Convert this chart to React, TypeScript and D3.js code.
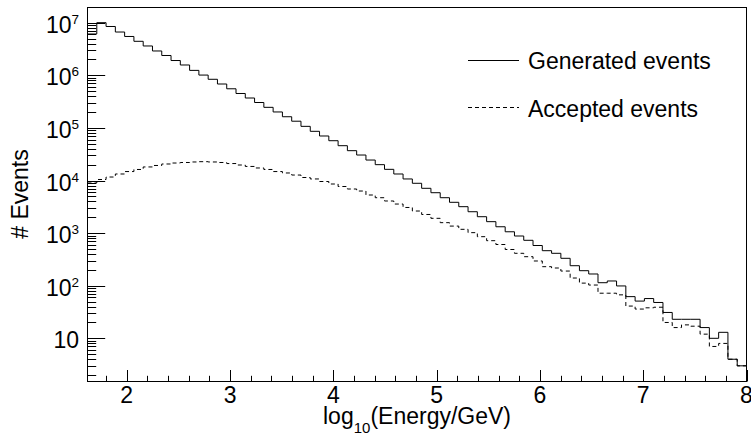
import React from "react";
import * as d3 from "d3";

// Histogram: log10(Energy/GeV), 71 equal bins
const binLow = 1.62;
const binHigh = 8;

const generated = [
  6.1e6, 1.0e7, 8.47e6, 6.65e6, 5.47e6, 4.43e6, 3.61e6, 2.9e6, 2.38e6, 1.91e6,
  1.57e6, 1.24e6, 1.01e6, 8.4e5, 6.83e5, 5.54e5, 4.51e5, 3.7e5, 3.04e5, 2.46e5,
  2.01e5, 1.63e5, 1.34e5, 1.07e5, 8.61e4, 7.02e4, 5.71e4, 4.59e4, 3.69e4, 3.05e4,
  2.45e4, 2.0e4, 1.63e4, 1.33e4, 1.07e4, 8850, 7110, 5860, 4710, 3850,
  3180, 2550, 2050, 1650, 1320, 1060, 881, 730, 581, 463,
  413, 332, 240, 193, 167, 114, 123, 99, 62, 51,
  57, 48, 31, 23, 23, 23, 16, 10, 13, 4, 3,
];

const accepted = [
  8970, 10450, 11650, 13300, 14800, 16200, 18100, 19300, 20600, 21500,
  22000, 22500, 22800, 22500, 22000, 21000, 19700, 18500, 17300, 16200,
  14800, 13900, 12700, 11400, 10700, 9570, 8580, 7690, 6890, 6310,
  5300, 4710, 4080, 3570, 3070, 2630, 2260, 1910, 1580, 1360,
  1180, 1020, 855, 718, 607, 488, 413, 356, 295, 230,
  217, 190, 140, 112, 103, 72, 72, 67, 41, 36,
  38, 39, 20, 16, 18, 17, 12, 7, 8, 4, 3,
];

const xTicks = [2, 3, 4, 5, 6, 7, 8];
const yExponents = [1, 2, 3, 4, 5, 6, 7];
const legendLabels = ["Generated events", "Accepted events"];

const W = 751;
const H = 438;
const FONT = "'Liberation Sans', Arial, Helvetica, sans-serif";

export default function App() {
  const left = 87.5;
  const right = 746.5;
  const top = 7.5;
  const bottom = 381.5;

  const x = d3.scaleLinear().domain([binLow, binHigh]).range([left, right]);
  const y = d3.scaleLog().domain([1.51, 1.945e7]).range([bottom, top]);

  const nBins = generated.length;
  const bw = (binHigh - binLow) / nBins;

  const stepPts = (vals: number[]) => {
    const pts: [number, number][] = vals.map((v, i) => [binLow + i * bw, v]);
    pts.push([binHigh, vals[vals.length - 1]]);
    return pts;
  };
  const line = d3
    .line<[number, number]>()
    .x((d) => x(d[0]))
    .y((d) => y(d[1]))
    .curve(d3.curveStepAfter);

  // minor ticks
  const xMinor: number[] = [];
  for (let v = 1.8; v < 8.001; v += 0.2) {
    const r = Math.round(v * 10) / 10;
    if (Math.abs(r - Math.round(r)) > 1e-6 && r > binLow) xMinor.push(r);
  }
  const yMinor: number[] = [];
  for (let e = 0; e <= 7; e++) {
    for (let m = 2; m <= 9; m++) {
      const v = m * Math.pow(10, e);
      if (v > 1.51 && v < 1.945e7) yMinor.push(v);
    }
  }

  return (
    <svg
      width={W}
      height={H}
      style={{ position: "absolute", left: 0, top: 0, background: "#fff" }}
      fontFamily={FONT}
    >
      <rect x={0} y={0} width={W} height={H} fill="#fff" />
      {/* histograms */}
      <path d={line(stepPts(generated)) || ""} fill="none" stroke="#000" strokeWidth={1} />
      <path
        d={line(stepPts(accepted)) || ""}
        fill="none"
        stroke="#000"
        strokeWidth={1}
        strokeDasharray="4 3"
      />
      {/* frame */}
      <rect x={left} y={top} width={right - left} height={bottom - top} fill="none" stroke="#000" strokeWidth={1} />
      {/* x ticks */}
      {xTicks.map((t) => (
        <g key={"xt" + t}>
          <line x1={Math.round(x(t)) + 0.5} x2={Math.round(x(t)) + 0.5} y1={bottom} y2={bottom - 11.5} stroke="#000" />
          <text x={x(t)} y={403.3} fontSize={23} textAnchor="middle" fill="#000">
            {t}
          </text>
        </g>
      ))}
      {xMinor.map((t) => (
        <line key={"xm" + t} x1={Math.round(x(t)) + 0.5} x2={Math.round(x(t)) + 0.5} y1={bottom} y2={bottom - 5.7} stroke="#000" />
      ))}
      {/* y ticks */}
      {yExponents.map((e) => {
        const yy = y(Math.pow(10, e));
        return (
          <g key={"yt" + e}>
            <line x1={left} x2={left + 17.7} y1={Math.round(yy) + 0.5} y2={Math.round(yy) + 0.5} stroke="#000" />
            <text x={79} y={yy + 10} fontSize={23} textAnchor="end" fill="#000">
              {e === 1 ? (
                "10"
              ) : (
                <>
                  <tspan>10</tspan>
                  <tspan fontSize={13.5} dy={-9}>
                    {e}
                  </tspan>
                </>
              )}
            </text>
          </g>
        );
      })}
      {yMinor.map((v) => (
        <line key={"ym" + v} x1={left} x2={left + 8.7} y1={Math.round(y(v)) + 0.5} y2={Math.round(y(v)) + 0.5} stroke="#000" />
      ))}
      {/* axis titles */}
      <text x={417} y={423.5} fontSize={23} textAnchor="middle" fill="#000">
        <tspan>log</tspan>
        <tspan fontSize={15} dy={9}>10</tspan>
        <tspan dy={-9}>(Energy/GeV)</tspan>
      </text>
      <text transform="translate(28.3,194) rotate(-90)" fontSize={23} textAnchor="middle" fill="#000">
        # Events
      </text>
      {/* legend */}
      <line x1={468} x2={519} y1={60.5} y2={60.5} stroke="#000" />
      <text x={528} y={69.3} fontSize={23} fill="#000">
        {legendLabels[0]}
      </text>
      <line x1={468} x2={519} y1={107.5} y2={107.5} stroke="#000" strokeDasharray="4 3" />
      <text x={528} y={116.5} fontSize={23} fill="#000">
        {legendLabels[1]}
      </text>
    </svg>
  );
}
